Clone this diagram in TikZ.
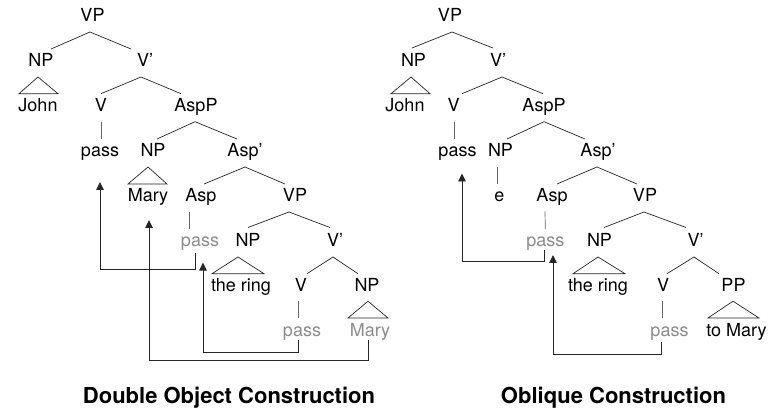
\documentclass[tikz,border=0pt]{standalone}
\usepackage{fontspec}
\setmainfont{TeX Gyre Heros}
\usetikzlibrary{arrows.meta}
\definecolor{tgray}{gray}{0.55}
\begin{document}
\begin{tikzpicture}[x=1pt,y=-1pt,
  lbl/.style={inner sep=0pt, anchor=base, font=\fontsize{18}{20}\selectfont},
  glbl/.style={lbl, text=tgray},
  captxt/.style={inner sep=0pt, anchor=base, font=\fontsize{22}{24}\selectfont\bfseries},
  br/.style={line width=0.7pt, black!85},
  vl/.style={line width=0.7pt, black!60},
  mv/.style={line width=0.9pt, black!85, -{Triangle[width=7.5pt,length=8pt]}}]
\useasboundingbox (0,0) rectangle (772,409);
% ---------------- left tree ----------------
\node[lbl] (VPa) at (92.5,21.5) {VP};
\node[lbl] (NPa) at (41,66.5) {NP};
\node[lbl] (Vba) at (145,66.5) {V’};
\node[lbl] (Johna) at (38,111.2) {John};
\node[lbl] (Va) at (101,111.2) {V};
\node[lbl] (AspPa) at (196,111.2) {AspP};
\node[lbl] (passa) at (100,156.5) {pass};
\node[lbl] (NPb) at (153,156.5) {NP};
\node[lbl] (Aspba) at (245,156.5) {Asp’};
\node[lbl] (Marya) at (148,201.5) {Mary};
\node[lbl] (Aspa) at (201,201.5) {Asp};
\node[lbl] (VPb) at (295,201.5) {VP};
\node[glbl] (passb) at (200,246.5) {pass};
\node[lbl] (NPc) at (248,246.5) {NP};
\node[lbl] (Vbb) at (335,246.5) {V’};
\node[lbl] (ringa) at (241,291.2) {the ring};
\node[lbl] (Vb) at (301,291.2) {V};
\node[lbl] (NPd) at (367,291.2) {NP};
\node[glbl] (passc) at (302,336.5) {pass};
\node[glbl] (Maryb) at (370,336.5) {Mary};
% branches
\draw[br] ([shift={(10,-17.5)}]NPa.base) -- ([shift={(-2.5,10.5)}]VPa.base) -- ([shift={(-14,-17.5)}]Vba.base);
\draw[br] ([shift={(-3,10.5)}]NPa.base) -- ([shift={(-19,-17.5)}]Johna.base) -- ([shift={(20,-17.5)}]Johna.base) -- cycle;
\draw[br] ([shift={(0,-17.5)}]Va.base) -- ([shift={(-4,10.5)}]Vba.base) -- ([shift={(-15,-17.5)}]AspPa.base);
\draw[vl] ([shift={(0,10.5)}]Va.base) -- ([shift={(1,-17.5)}]passa.base);
\draw[br] ([shift={(4,-17.5)}]NPb.base) -- ([shift={(-1,10.5)}]AspPa.base) -- ([shift={(-8,-17.5)}]Aspba.base);
\draw[br] ([shift={(-5,10.5)}]NPb.base) -- ([shift={(-20,-17.5)}]Marya.base) -- ([shift={(19,-17.5)}]Marya.base) -- cycle;
\draw[br] ([shift={(3,-17.5)}]Aspa.base) -- ([shift={(0,10.5)}]Aspba.base) -- ([shift={(-10,-17.5)}]VPb.base);
\draw[vl] ([shift={(-12,10.5)}]Aspa.base) -- ([shift={(-11,-17.5)}]passb.base);
\draw[br] ([shift={(0,-19)}]NPc.base) -- ([shift={(-6,10.5)}]VPb.base) -- ([shift={(-5,-19)}]Vbb.base);
\draw[br] ([shift={(-10,10.5)}]NPc.base) -- ([shift={(-29,-17.5)}]ringa.base) -- ([shift={(23,-17.5)}]ringa.base) -- cycle;
\draw[br] ([shift={(6,-17.5)}]Vb.base) -- ([shift={(-2,10.5)}]Vbb.base) -- ([shift={(-9,-17.5)}]NPd.base);
\draw[vl] ([shift={(-3,10)}]Vb.base) -- ([shift={(-4,-18.5)}]passc.base);
\draw[br] ([shift={(1,10)}]NPd.base) -- ([shift={(-22,-18.5)}]Maryb.base) -- ([shift={(18,-18.5)}]Maryb.base) -- cycle;
% movement arrows
\draw[mv] ([shift={(-5,7)}]passb.base) -- ++(0,15.5) -| ([shift={(0,25.5)}]passa.base);
\draw[mv] ([shift={(-4,3)}]passc.base) -- ++(0,12.5) -| ([shift={(3,16)}]passb.base);
\draw[mv] ([shift={(-2,3)}]Maryb.base) -- ++(0,20.5) -| ([shift={(1,18.5)}]Marya.base);
% ---------------- right tree ----------------
\node[lbl] (VPr) at (450,21.5) {VP};
\node[lbl] (NPr) at (413.5,66.5) {NP};
\node[lbl] (Vbr) at (498,66.5) {V’};
\node[lbl] (Johnr) at (405,111.2) {John};
\node[lbl] (Vr) at (453.5,111.2) {V};
\node[lbl] (AspPr) at (544,111.2) {AspP};
\node[lbl] (passr) at (457.5,156.5) {pass};
\node[lbl] (NPs) at (500.5,156.5) {NP};
\node[lbl] (Aspbr) at (598,156.5) {Asp’};
\node[lbl] (er) at (499.5,201.5) {e};
\node[lbl] (Aspr) at (552,201.5) {Asp};
\node[lbl] (VPs) at (645,201.5) {VP};
\node[glbl] (passs) at (545.3,246.5) {pass};
\node[lbl] (NPt) at (599.5,246.5) {NP};
\node[lbl] (Vbs) at (695.5,246.5) {V’};
\node[lbl] (ringr) at (598,291.2) {the ring};
\node[lbl] (Vs) at (663,291.2) {V};
\node[lbl] (PPr) at (733.5,291.2) {PP};
\node[glbl] (passt) at (669.5,336.5) {pass};
\node[lbl] (toMary) at (736.5,336.5) {to Mary};
% branches
\draw[br] ([shift={(-1.5,-18.5)}]NPr.base) -- ([shift={(2,10.5)}]VPr.base) -- ([shift={(-5,-18.5)}]Vbr.base);
\draw[br] ([shift={(-2.5,10.5)}]NPr.base) -- ([shift={(-14,-17.5)}]Johnr.base) -- ([shift={(25,-17.5)}]Johnr.base) -- cycle;
\draw[br] ([shift={(8.5,-17.5)}]Vr.base) -- ([shift={(4,10.5)}]Vbr.base) -- ([shift={(-1,-17.5)}]AspPr.base);
\draw[vl] ([shift={(0.5,10.5)}]Vr.base) -- ([shift={(-3.5,-17.5)}]passr.base);
\draw[br] ([shift={(6.5,-17.5)}]NPs.base) -- ([shift={(0,10.5)}]AspPr.base) -- ([shift={(-13,-17.5)}]Aspbr.base);
\draw[vl] ([shift={(-3.5,10.5)}]NPs.base) -- ([shift={(-2.5,-17.5)}]er.base);
\draw[br] ([shift={(5,-17.5)}]Aspr.base) -- ([shift={(-1,10.5)}]Aspbr.base) -- ([shift={(-8,-17.5)}]VPs.base);
\draw[vl] ([shift={(-7,10)}]Aspr.base) -- ([shift={(0,-17.5)}]passs.base);
\draw[br] ([shift={(4.5,-19)}]NPt.base) -- ([shift={(-1,10.5)}]VPs.base) -- ([shift={(-9.5,-19)}]Vbs.base);
\draw[br] ([shift={(-1.5,10.5)}]NPt.base) -- ([shift={(-25,-17.5)}]ringr.base) -- ([shift={(27,-17.5)}]ringr.base) -- cycle;
\draw[br] ([shift={(4,-17.5)}]Vs.base) -- ([shift={(-1.5,10.5)}]Vbs.base) -- ([shift={(-14.5,-17.5)}]PPr.base);
\draw[vl] ([shift={(-1,10)}]Vs.base) -- ([shift={(-7.5,-18.5)}]passt.base);
\draw[br] ([shift={(-0.5,10)}]PPr.base) -- ([shift={(-28.5,-18.5)}]toMary.base) -- ([shift={(22.5,-18.5)}]toMary.base) -- cycle;
% movement arrows
\draw[mv] ([shift={(-1,4)}]passs.base) -- ++(0,10.5) -| ([shift={(4.5,17)}]passr.base);
\draw[mv] ([shift={(-8.5,5)}]passt.base) -- ++(0,12.5) -| ([shift={(7.7,8.5)}]passs.base);
% captions
\node[captxt] (capL) at (229,403) {Double Object Construction};
\node[captxt] (capR) at (613.5,403) {Oblique Construction};
\end{tikzpicture}
\end{document}
